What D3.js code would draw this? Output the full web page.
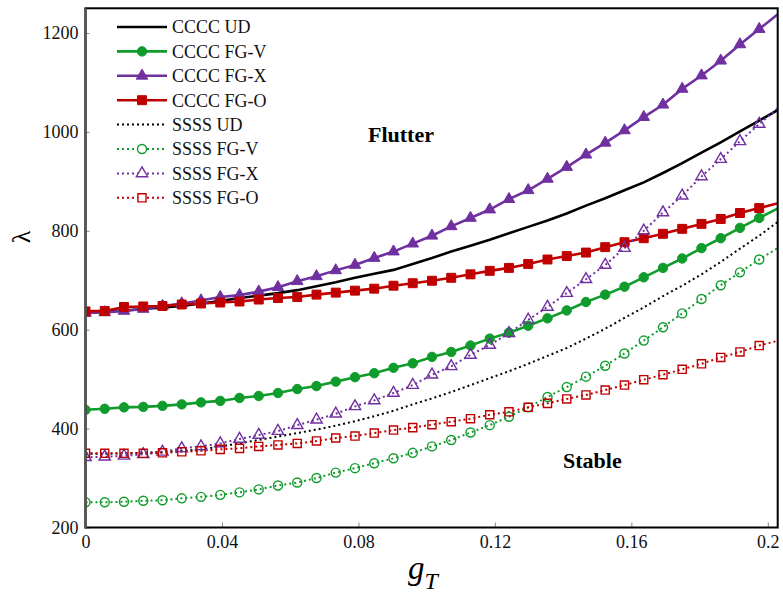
<!DOCTYPE html>
<html>
<head>
<meta charset="utf-8">
<script src="https://cdn.jsdelivr.net/npm/d3@7"></script>
<style>
body { margin: 0; background: #fff; }
text { font-family: "Liberation Serif", "Times New Roman", serif; }
</style>
</head>
<body>
<div id="draw"></div>
<script>
// thermal gradient parameter (marker positions)
var gT = [0, 0.00564, 0.01128, 0.01693, 0.02257, 0.02821, 0.03385, 0.0395, 0.04514, 0.05078,
	0.05642, 0.06207, 0.06771, 0.07335, 0.07899, 0.08464, 0.09028, 0.09592, 0.10156, 0.1072,
	0.11285, 0.11849, 0.12413, 0.12977, 0.13542, 0.14106, 0.1467, 0.15234, 0.15799, 0.16363,
	0.16927, 0.17491, 0.18056, 0.1862, 0.19184, 0.19748, 0.20313];

var ccccUD  = [636, 637, 639, 642, 645, 648, 653, 658, 664, 669, 674, 680, 688, 696, 705, 713, 721, 733, 745, 758,
	770, 782, 795, 808, 821, 835, 851, 866, 882, 898, 917, 937, 958, 979, 1001, 1023, 1045];
var ccccFGV = [438, 440, 443, 444, 446, 449, 453, 456, 462, 466, 472, 480, 486, 495, 504, 512, 523, 532, 545, 555,
	568, 582, 594, 608, 623, 639, 656, 671, 687, 706, 725, 744, 765, 785, 806, 826, 846];
var ccccFGX = [634, 635, 638, 642, 648, 653, 659, 666, 670, 677, 686, 698, 708, 720, 731, 745, 758, 774, 790, 809,
	826, 843, 864, 882, 905, 929, 954, 978, 1003, 1030, 1055, 1087, 1114, 1144, 1177, 1208, 1239];
var ccccFGO = [637, 638, 646, 647, 648, 651, 653, 655, 657, 661, 664, 666, 671, 675, 679, 683, 689, 694, 699, 705,
	712, 719, 725, 733, 742, 749, 756, 767, 777, 785, 794, 804, 814, 824, 836, 846, 856];
var ssssUD  = [349, 349, 350, 351, 353, 355, 358, 364, 370, 377, 384, 391, 398, 406, 415, 425, 436, 449, 461, 474,
	488, 502, 516, 531, 547, 563, 582, 602, 624, 645, 668, 689, 712, 737, 764, 790, 819];
var ssssFGV = [251, 251, 252, 254, 255, 259, 262, 266, 271, 277, 285, 291, 300, 311, 320, 330, 340, 351, 364, 377,
	392, 407, 424, 443, 464, 484, 505, 527, 552, 578, 605, 633, 662, 690, 716, 742, 766];
var ssssFGX = [342, 343, 345, 348, 353, 360, 364, 370, 379, 387, 395, 407, 418, 430, 445, 457, 472, 488, 509, 526,
	549, 569, 593, 620, 646, 674, 702, 731, 765, 800, 837, 871, 910, 945, 981, 1016, 1049];
var ssssFGO = [350, 350, 350, 350, 351, 353, 355, 358, 360, 364, 367, 370, 375, 381, 385, 391, 397, 402, 408, 414,
	420, 428, 434, 443, 451, 460, 468, 478, 488, 499, 509, 520, 531, 544, 555, 568, 578];

var seriesNames = ["CCCC UD", "CCCC FG-V", "CCCC FG-X", "CCCC FG-O", "SSSS UD", "SSSS FG-V", "SSSS FG-X", "SSSS FG-O"];
var xTicks = [0, 0.04, 0.08, 0.12, 0.16, 0.2];
var xTickLabels = ["0", "0.04", "0.08", "0.12", "0.16", "0.2"];
var yTicks = [200, 400, 600, 800, 1000, 1200];

drawChart();

function drawChart() {
	var black = "#000000", green = "#109c2c", purple = "#7030a0", red = "#c00000";

	var series = [
		{ name: seriesNames[0], values: ccccUD,  color: black,  dotted: false, marker: null },
		{ name: seriesNames[1], values: ccccFGV, color: green,  dotted: false, marker: d3.symbolCircle,   size: 70, filled: true },
		{ name: seriesNames[2], values: ccccFGX, color: purple, dotted: false, marker: d3.symbolTriangle, size: 58, filled: true },
		{ name: seriesNames[3], values: ccccFGO, color: red,    dotted: false, marker: d3.symbolSquare,   size: 80, filled: true },
		{ name: seriesNames[4], values: ssssUD,  color: black,  dotted: true,  marker: null },
		{ name: seriesNames[5], values: ssssFGV, color: green,  dotted: true,  marker: d3.symbolCircle,   size: 64, filled: false },
		{ name: seriesNames[6], values: ssssFGX, color: purple, dotted: true,  marker: d3.symbolTriangle, size: 56, filled: false },
		{ name: seriesNames[7], values: ssssFGO, color: red,    dotted: true,  marker: d3.symbolSquare,   size: 66, filled: false }
	];

	var width = 783, height = 594;
	var pLeft = 85.5, pRight = 777.7, pTop = 8.3, pBottom = 527.5;

	var x = d3.scaleLinear().domain([0, 0.2029]).range([pLeft, pRight]);
	var y = d3.scaleLinear().domain([200, 1250]).range([pBottom, pTop]);

	var svg = d3.select("#draw").append("svg")
		.attr("width", width)
		.attr("height", height);

	svg.append("clipPath").attr("id", "plotclip")
		.append("rect")
		.attr("x", pLeft).attr("y", pTop)
		.attr("width", pRight - pLeft).attr("height", pBottom - pTop);

	// axes with inward ticks
	var yAxis = svg.append("g")
		.attr("transform", "translate(" + pLeft + ",0)")
		.call(d3.axisLeft(y).tickValues(yTicks).tickSize(-4).tickPadding(7).tickFormat(d3.format("d")));
	var xAxis = svg.append("g")
		.attr("transform", "translate(0," + pBottom + ")")
		.call(d3.axisBottom(x).tickValues(xTicks).tickSize(-5).tickPadding(8)
			.tickFormat(function(d, i){ return xTickLabels[i]; }));

	[xAxis, yAxis].forEach(function(ax){
		ax.select(".domain").remove();
		ax.selectAll(".tick line").attr("stroke", "#888").attr("stroke-width", 1);
		ax.selectAll(".tick text")
			.attr("fill", "#111")
			.style("font-size", "18px")
			.style("font-family", "'Liberation Serif', 'Times New Roman', serif");
	});

	var plot = svg.append("g").attr("clip-path", "url(#plotclip)");

	var line = d3.line()
		.x(function(d, i){ return x(gT[i]); })
		.y(function(d){ return y(d); });

	series.forEach(function(s){
		plot.append("path")
			.datum(s.values)
			.attr("d", line)
			.attr("fill", "none")
			.attr("stroke", s.color)
			.attr("stroke-width", s.dotted ? 2 : 2.6)
			.attr("stroke-dasharray", s.dotted ? "2,3" : null);
	});

	series.forEach(function(s){
		if(!s.marker) return;
		var sym = d3.symbol().type(s.marker).size(s.size);
		plot.selectAll(null)
			.data(s.values.filter(function(d, i){ return gT[i] <= x.domain()[1]; }))
			.enter()
			.append("path")
			.attr("transform", function(d, i){ return "translate(" + x(gT[i]) + "," + y(d) + ")"; })
			.attr("d", sym)
			.attr("fill", s.filled ? s.color : "none")
			.attr("stroke", s.color)
			.attr("stroke-width", s.filled ? 1 : 1.4);
	});

	// frame
	svg.append("rect")
		.attr("x", pLeft).attr("y", pTop)
		.attr("width", pRight - pLeft).attr("height", pBottom - pTop)
		.attr("fill", "none")
		.attr("stroke", "#000")
		.attr("stroke-width", 2);
	svg.append("line")
		.attr("x1", pLeft).attr("x2", pLeft)
		.attr("y1", pTop).attr("y2", pBottom + 1)
		.attr("stroke", "#555")
		.attr("stroke-width", 2.6);

	// legend
	var legend = svg.append("g");
	series.forEach(function(s, i){
		var ly = 27 + i * 24.4;
		legend.append("line")
			.attr("x1", 117).attr("x2", 167)
			.attr("y1", ly).attr("y2", ly)
			.attr("stroke", s.color)
			.attr("stroke-width", s.dotted ? 2 : 2.6)
			.attr("stroke-dasharray", s.dotted ? "2,3" : null);
		if(s.marker){
			legend.append("path")
				.attr("transform", "translate(142," + ly + ")")
				.attr("d", d3.symbol().type(s.marker).size(s.size))
				.attr("fill", s.filled ? s.color : "#fff")
				.attr("stroke", s.color)
				.attr("stroke-width", s.filled ? 1 : 1.4);
		}
		legend.append("text")
			.attr("x", 172).attr("y", ly)
			.attr("dy", "0.35em")
			.style("font-size", "18px")
			.attr("fill", "#111")
			.text(s.name);
	});

	// region labels
	svg.append("text")
		.attr("x", 368).attr("y", 142)
		.style("font-size", "22px").style("font-weight", "bold")
		.text("Flutter");
	svg.append("text")
		.attr("x", 563).attr("y", 468)
		.style("font-size", "22px").style("font-weight", "bold")
		.text("Stable");

	// axis titles
	svg.append("text")
		.attr("transform", "translate(30,237) rotate(-90)")
		.attr("text-anchor", "middle")
		.style("font-size", "26px")
		.text("λ");

	var xt = svg.append("text")
		.attr("x", 408).attr("y", 579)
		.style("font-size", "33px")
		.style("font-style", "italic");
	xt.append("tspan").text("g");
	xt.append("tspan").attr("dy", 10).style("font-size", "24px").text("T");
}
</script>
</body>
</html>
